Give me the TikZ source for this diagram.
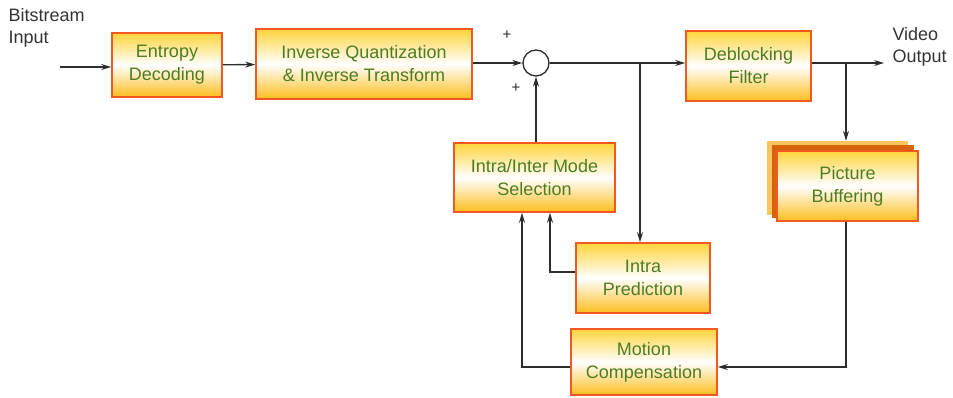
\documentclass[tikz,border=0pt]{standalone}
\usepackage{fontspec}
\setmainfont{Liberation Sans}
\usetikzlibrary{arrows.meta}
\definecolor{boxedge}{RGB}{244,88,34}
\definecolor{boxtop}{RGB}{255,212,60}
\definecolor{boxbot}{RGB}{252,190,30}
\definecolor{boxtext}{RGB}{78,124,34}
\definecolor{wire}{RGB}{45,45,45}
\definecolor{stackback}{RGB}{252,196,90}
\definecolor{stackmid}{RGB}{214,100,12}
\tikzset{
  block/.style={draw=boxedge, line width=1.6pt, top color=boxtop, bottom color=boxbot,
    middle color=white, text=boxtext, align=center, inner sep=0pt,
    font=\fontsize{18}{23}\selectfont},
  layer/.style={inner sep=0pt, draw=none},
  wire/.style={draw=wire, line width=1.3pt},
  flow/.style={wire, -{Stealth[length=10pt,width=6pt]}},
  plain/.style={text=black!80, align=left, font=\fontsize{18}{22}\selectfont},
  sign/.style={font=\fontsize{15}{15}\selectfont, text=black!85}
}
\begin{document}
\begin{tikzpicture}[x=1pt, y=-1pt]
\useasboundingbox (0,0) rectangle (953,397);

% text labels at the ends
\node[plain, anchor=west] (bsin) at (5,28) {Bitstream\\Input};
\node[plain, anchor=west] (vout) at (889,47) {Video\\Output};

% processing blocks
\node[block, minimum width=110pt, minimum height=64pt] (ent) at (167,65) {Entropy\\Decoding};
\node[block, minimum width=216pt, minimum height=70pt] (iq) at (364,64) {Inverse Quantization\\\& Inverse Transform};
\node[draw=wire, line width=1.3pt, fill=white, circle, minimum size=26pt, inner sep=0pt] (sum) at (536,63) {};
\node[block, minimum width=125pt, minimum height=70pt] (deb) at (748.5,66) {Deblocking\\Filter};
\node[block, minimum width=161pt, minimum height=69pt] (mode) at (534.5,177.5) {Intra/Inter Mode\\Selection};
\node[block, minimum width=134pt, minimum height=70pt] (intra) at (643,278) {Intra\\Prediction};
\node[block, minimum width=146pt, minimum height=66pt] (mc) at (644,362) {Motion\\Compensation};

% stacked picture buffer
\node[layer, fill=stackback, minimum width=141pt, minimum height=74pt] (pbback) at (837.5,178) {};
\node[layer, fill=stackmid, minimum width=142pt, minimum height=73pt] (pbmid) at (843,181.5) {};
\node[block, minimum width=141pt, minimum height=70pt] (pb) at (847.5,186) {Picture\\Buffering};

% signs at the adder
\node[sign] (plusa) at (507,35) {+};
\node[sign] (plusb) at (516,88) {+};

% junction points
\coordinate (src) at (60,67);
\coordinate (tapa) at (640,63);
\coordinate (tapb) at (846,63);
\coordinate (dst) at (884,63);
\coordinate (ipturn) at (550,272);
\coordinate (mcturn) at (522,367);
\coordinate (pbturn) at (846,367);

% main path
\draw[flow] (src) -- (ent.west |- src);
\draw[flow] (ent) -- (iq);
\draw[flow] (iq.east |- sum) -- (sum.west);
\draw[flow] (sum.east) -- (deb.west |- sum);
\draw[flow] (deb.east |- tapb) -- (dst);

% taps downwards
\draw[flow] (tapa) -- (tapa |- intra.north);
\draw[flow] (tapb) -- (tapb |- pbback.north);

% feedback paths
\draw[flow] (mode.north -| sum) -- (sum.south);
\draw[flow] (intra.west |- ipturn) -- (ipturn) -- (ipturn |- mode.south);
\draw[flow] (mc.west |- mcturn) -- (mcturn) -- (mcturn |- mode.south);
\draw[flow] (pb.south -| pbturn) -- (pbturn) -- (mc.east |- pbturn);
\end{tikzpicture}
\end{document}
